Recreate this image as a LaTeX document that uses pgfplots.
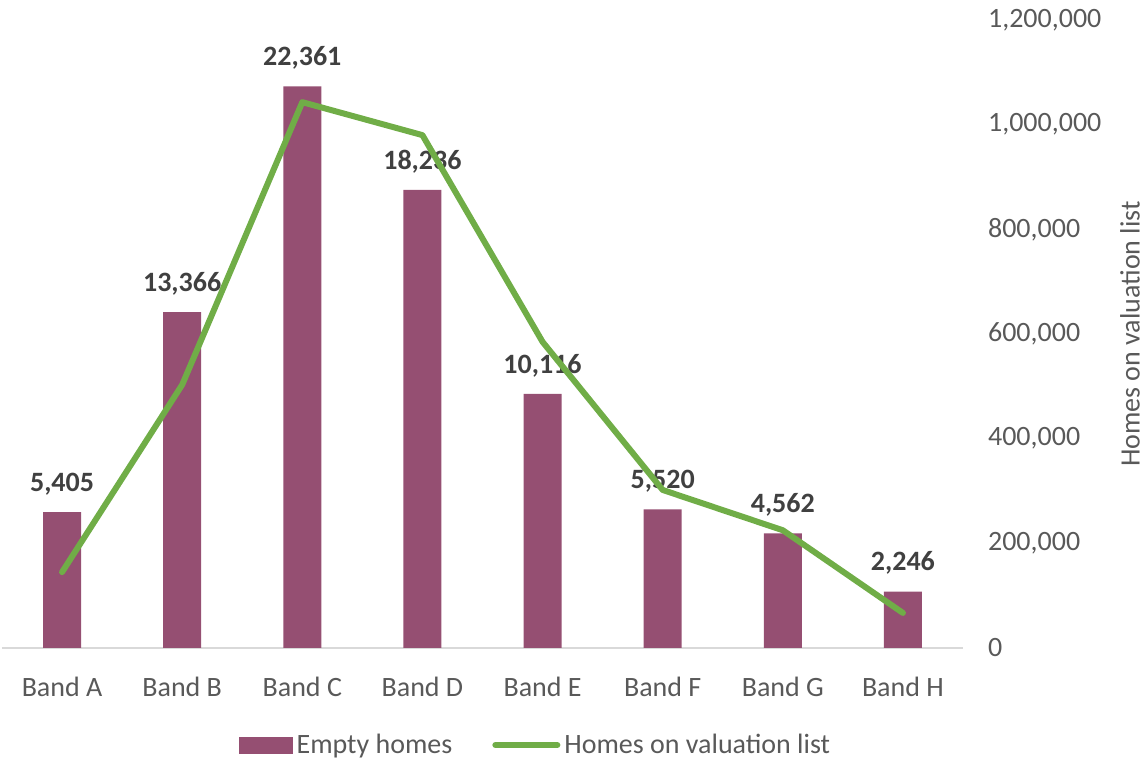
\documentclass[border=0pt]{standalone}
\usepackage{pgfplots}
\pgfplotsset{compat=1.18}
\usepackage{fontspec}
\setmainfont{Carlito}
\definecolor{barc}{HTML}{954F72}
\definecolor{linec}{HTML}{70AD47}
\definecolor{txt}{HTML}{595959}
\definecolor{lbl}{HTML}{404040}
\definecolor{axl}{HTML}{D9D9D9}
\begin{document}
\begin{tikzpicture}
\pgfplotsset{
  every axis/.append style={
    scale only axis, width=480.5pt, height=314pt,
    xmin=-0.5, xmax=7.5,
    font=\fontsize{14}{17}\selectfont,
    /pgf/number format/.cd, fixed, 1000 sep={,}, assume math mode=true,
  },
}
\begin{axis}[
  ymin=0, ymax=25000,
  axis x line*=bottom,
  hide y axis,
  x axis line style={draw=axl, line width=1pt, -},
  xtick={0,...,7},
  xticklabels={Band A,Band B,Band C,Band D,Band E,Band F,Band G,Band H},
  xtick style={draw=none},
  xticklabel style={text=txt, yshift=-6.5pt},
  ybar, bar width=19pt,
  nodes near coords,
  every node near coord/.append style={font=\fontsize{14}{17}\selectfont\bfseries, text=lbl, yshift=5pt},
]
\addplot[fill=barc, draw=none] coordinates {(0,5405) (1,13366) (2,22361) (3,18236) (4,10116) (5,5520) (6,4562) (7,2246)};
\coordinate (sw) at (rel axis cs:0,0);
\end{axis}
\begin{axis}[
  ymin=0, ymax=1200000,
  hide x axis,
  axis y line*=right,
  y axis line style={draw=none},
  ytick={0,200000,400000,600000,800000,1000000,1200000},
  ytick style={draw=none},
  yticklabel style={text=txt, anchor=west, xshift=9pt},
  scaled y ticks=false,
  every axis y label/.style={at={(axis description cs:1,0.5)}, anchor=center, rotate=90, yshift=-83.5pt, inner sep=0pt, text=txt},
  ylabel={Homes on valuation list},
  legend style={at={(axis description cs:0.5,0)}, anchor=center, xshift=27pt, yshift=-48.5pt, draw=none, fill=none, text=txt, font=\fontsize{14}{17}\selectfont, /tikz/every even column/.append style={column sep=18pt}},
  legend columns=2,
  legend cell align=left,
]
\addlegendimage{legend image code/.code={\fill[barc] (0pt,-4pt) rectangle (26.5pt,4pt);}}
\addlegendentry{Empty homes}
\addplot[linec, line width=3pt, line join=round, line cap=round, mark=none, legend image code/.code={\draw[linec, line width=3pt, line cap=round] (0pt,0pt) -- (31pt,0pt);}] coordinates {(0,145000) (1,503000) (2,1043000) (3,980000) (4,585000) (5,302000) (6,225000) (7,67000)};
\addlegendentry{Homes on valuation list}
\end{axis}
\pgfresetboundingbox
\path[use as bounding box] (sw) ++(-1pt,-56pt) rectangle ++(574pt,380pt);
\end{tikzpicture}
\end{document}
